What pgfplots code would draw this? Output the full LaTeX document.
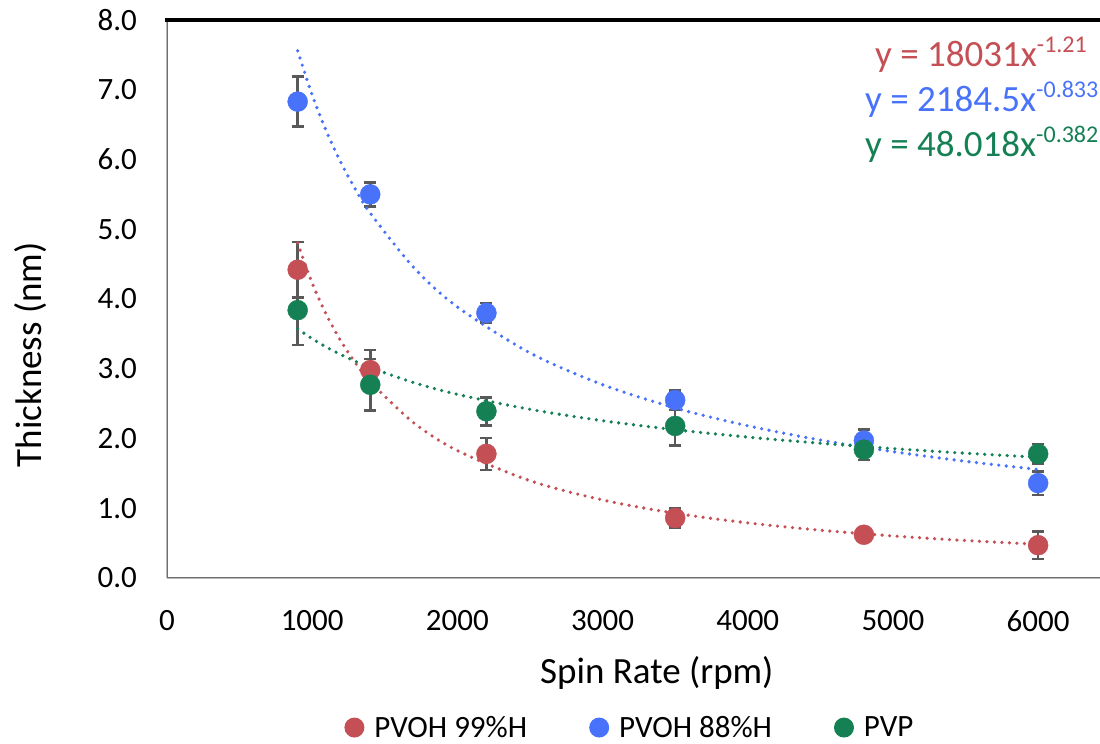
\documentclass[border=0pt]{standalone}
\usepackage{fontspec}
\setmainfont{Carlito}
\usepackage{pgfplots}
\pgfplotsset{compat=1.18}
\definecolor{cred}{RGB}{196,79,85}
\definecolor{cblue}{RGB}{72,114,249}
\definecolor{cgreen}{RGB}{20,128,84}
\definecolor{errgray}{RGB}{89,89,89}
\definecolor{axgray}{RGB}{110,110,110}
\definecolor{axlight}{RGB}{185,185,185}
\newcommand\tfont{\fontsize{31}{37}\selectfont}
\newcommand\lfont{\fontsize{37}{44}\selectfont}
\newcommand\efont{\fontsize{37}{44}\selectfont}
\newcommand\sfont{\fontsize{24}{28}\selectfont}
\begin{document}
\begin{tikzpicture}
\path[use as bounding box, clip] (0,0) rectangle (1100pt,744pt);
\begin{axis}[
  at={(167pt,166pt)}, anchor=south west,
  scale only axis, width=1016.4pt, height=558pt,
  xmin=0, xmax=7000, ymin=0, ymax=8,
  xtick={0,1000,...,6000}, ytick={0,1,...,8},
  major tick length=0pt,
  clip=false,
  axis x line=bottom, axis y line=left, axis line style={-},
  x axis line style={draw=axgray, double=axlight, double distance=1pt, line width=0.9pt},
  y axis line style={draw=axgray, double=axlight, double distance=1pt, line width=0.9pt},
  /pgf/number format/assume math mode=true,
  yticklabel style={/pgf/number format/.cd, fixed, fixed zerofill, precision=1, /tikz/.cd, font=\tfont, anchor=east, inner sep=0pt, xshift=-30pt},
  xticklabel style={/pgf/number format/.cd, 1000 sep={}, /tikz/.cd, font=\tfont, anchor=north, inner sep=0pt, yshift=-32pt},
  xlabel={Spin Rate (rpm)},
  xlabel style={font=\lfont, at={(axis description cs:0.482,-0.170)}, anchor=center},
  ylabel={Thickness (nm)},
  ylabel style={font=\lfont, at={(axis description cs:-0.1338,0.40)}, anchor=center},
  legend style={draw=none, fill=none, font=\tfont, legend columns=3,
    at={(axis description cs:0.4555,-0.2680)}, anchor=center,
    /tikz/every odd column/.append style={column sep=8pt},
    /tikz/every even column/.append style={column sep=60pt}},
  legend cell align=left,
  legend image code/.code={\fill[#1, draw=none] (10pt,0pt) circle (10pt);},
  errbar/.style={forget plot, only marks, mark=none,
    error bars/.cd, y dir=both, y explicit, error mark=-,
    error bar style={line width=2.6pt, draw=errgray},
    error mark options={rotate=90, mark size=6pt, line width=2.6pt, draw=errgray}},
  trend/.style={forget plot, smooth, line width=3.6pt, line cap=round, dash pattern=on 0pt off 7.5pt},
]
% error bars
\addplot[errbar] coordinates {(900,4.42) +- (0,0.40) (1400,2.98) +- (0,0.29) (2200,1.78) +- (0,0.23) (3500,0.86) +- (0,0.14) (4800,0.62) +- (0,0.05) (6000,0.47) +- (0,0.20)};
\addplot[errbar] coordinates {(900,6.83) +- (0,0.36) (1400,5.50) +- (0,0.17) (2200,3.80) +- (0,0.14) (3500,2.55) +- (0,0.14) (4800,1.97) +- (0,0.16) (6000,1.36) +- (0,0.17)};
\addplot[errbar] coordinates {(900,3.84) +- (0,0.50) (1400,2.77) +- (0,0.37) (2200,2.39) +- (0,0.20) (3500,2.18) +- (0,0.28) (4800,1.84) +- (0,0.15) (6000,1.78) +- (0,0.14)};
% markers
\addplot[only marks, mark=*, color=cred, mark size=10pt, mark options={draw=none, fill=cred}] coordinates {(900,4.42) (1400,2.98) (2200,1.78) (3500,0.86) (4800,0.62) (6000,0.47)};
\addlegendentry{PVOH 99\%H}
\addplot[only marks, mark=*, color=cblue, mark size=10pt, mark options={draw=none, fill=cblue}] coordinates {(900,6.83) (1400,5.50) (2200,3.80) (3500,2.55) (4800,1.97) (6000,1.36)};
\addlegendentry{PVOH 88\%H}
\addplot[only marks, mark=*, color=cgreen, mark size=10pt, mark options={draw=none, fill=cgreen}] coordinates {(900,3.84) (1400,2.77) (2200,2.39) (3500,2.18) (4800,1.84) (6000,1.78)};
\addlegendentry{PVP}
% trend lines (power fits, tabulated)
\addplot[trend, color=cred] coordinates {(900,4.802) (1000,4.227) (1100,3.766) (1200,3.390) (1300,3.077) (1400,2.813) (1700,2.224) (2000,1.827) (2500,1.395) (3000,1.119) (3500,0.928) (4000,0.790) (4500,0.685) (5000,0.603) (5500,0.537) (6000,0.484)};
\addplot[trend, color=cblue] coordinates {(900,7.558) (1000,6.923) (1100,6.394) (1200,5.947) (1300,5.564) (1400,5.231) (1700,4.450) (2000,3.886) (2500,3.227) (3000,2.772) (3500,2.438) (4000,2.182) (4500,1.978) (5000,1.812) (5500,1.673) (6000,1.556)};
\addplot[trend, color=cgreen] coordinates {(900,3.572) (1000,3.431) (1100,3.308) (1200,3.200) (1300,3.104) (1400,3.017) (1700,2.801) (2000,2.633) (2500,2.418) (3000,2.255) (3500,2.126) (4000,2.020) (4500,1.932) (5000,1.855) (5500,1.789) (6000,1.731)};
\draw[black, line width=3.5pt] ([xshift=-2pt]rel axis cs:0,1) -- (rel axis cs:1,1);
\end{axis}
\node[anchor=base west, inner sep=0pt, text=cred, font=\efont] at (875pt,677pt) {y = 18031x\raisebox{14pt}{\sfont -1.21}};
\node[anchor=base west, inner sep=0pt, text=cblue, font=\efont] at (865pt,632pt) {y = 2184.5x\raisebox{14pt}{\sfont -0.833}};
\node[anchor=base west, inner sep=0pt, text=cgreen, font=\efont] at (865pt,587pt) {y = 48.018x\raisebox{14pt}{\sfont -0.382}};
\end{tikzpicture}
\end{document}
